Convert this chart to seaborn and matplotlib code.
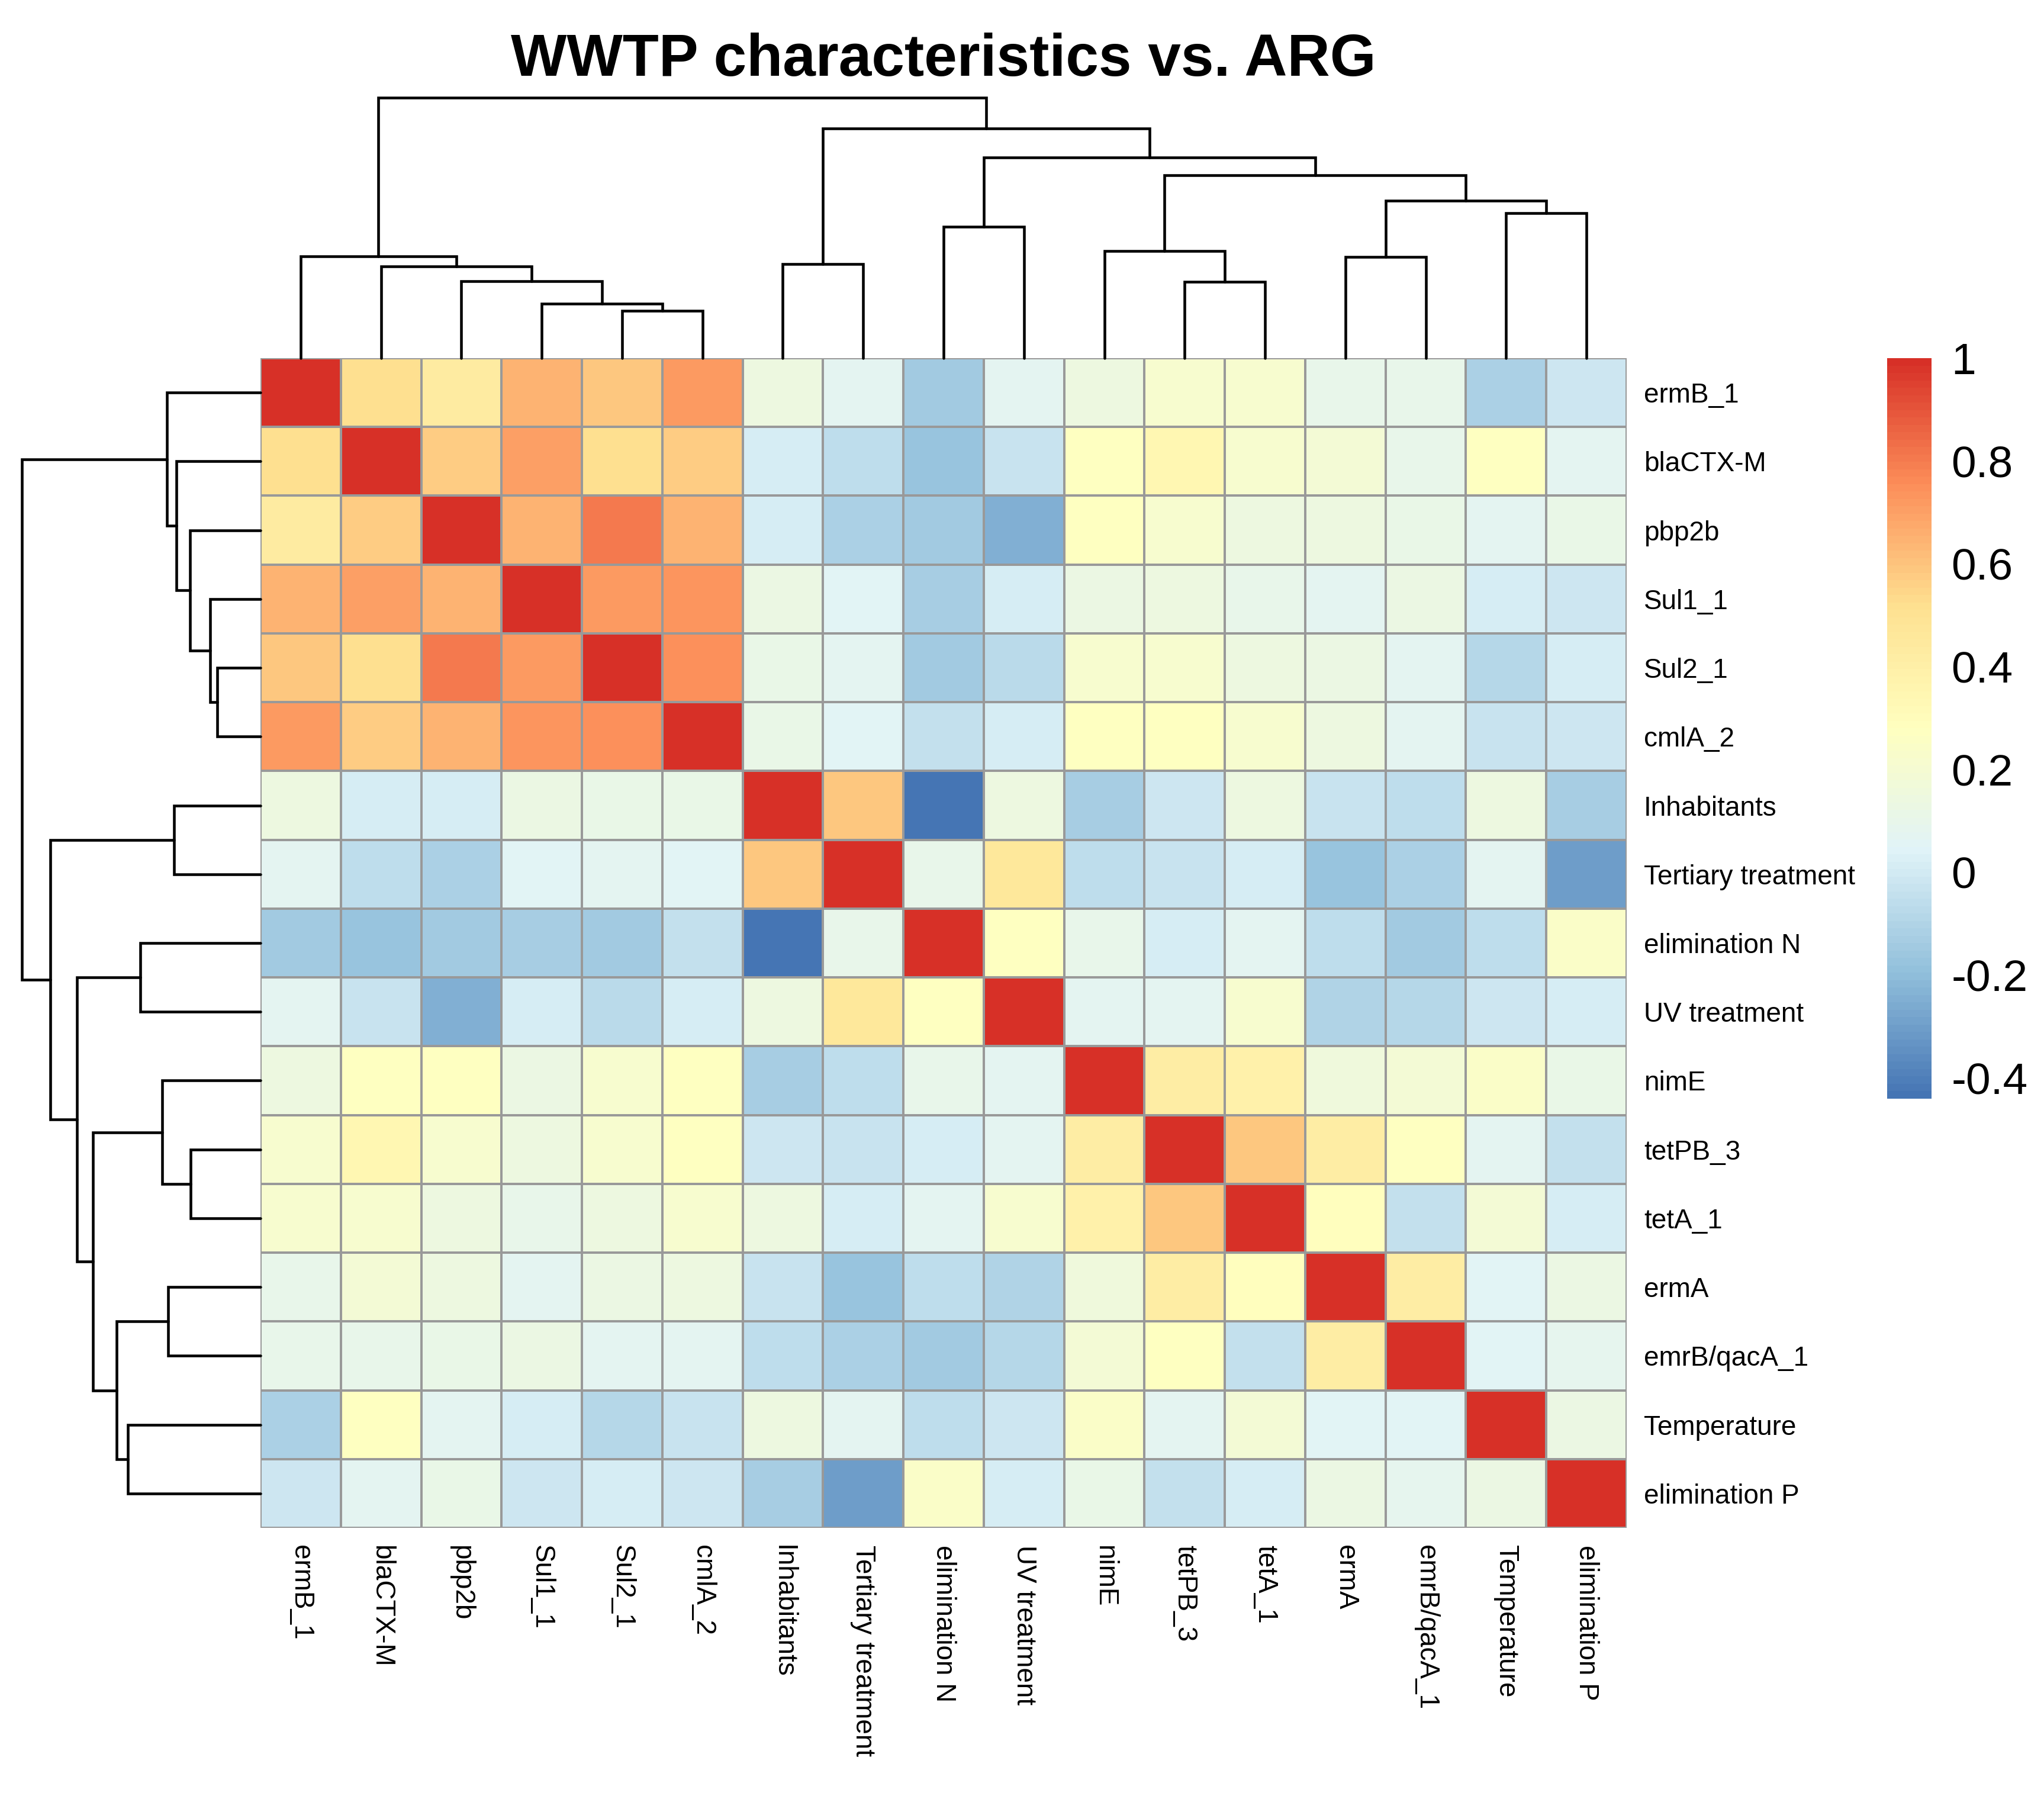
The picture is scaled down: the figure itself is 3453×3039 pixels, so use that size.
import numpy as np
import pandas as pd
import matplotlib
matplotlib.use("Agg")
import matplotlib.pyplot as plt
from matplotlib.colors import LinearSegmentedColormap
import seaborn as sns

# variables in the clustered order of the heatmap
labels = ["ermB_1", "blaCTX-M", "pbp2b", "Sul1_1", "Sul2_1", "cmlA_2",
          "Inhabitants", "Tertiary treatment", "elimination N", "UV treatment",
          "nimE", "tetPB_3", "tetA_1", "ermA", "emrB/qacA_1", "Temperature",
          "elimination P"]

# correlations right of the diagonal, one list per row
r_ermB_1 = [0.52, 0.43, 0.65, 0.59, 0.72, 0.15, 0.075, -0.15, 0.07, 0.15, 0.21, 0.21, 0.10, 0.10, -0.11, -0.015]
r_blaCTX = [0.57, 0.71, 0.52, 0.57, 0.02, -0.06, -0.18, -0.03, 0.27, 0.34, 0.21, 0.185, 0.10, 0.27, 0.075]
r_pbp2b = [0.64, 0.80, 0.64, 0.02, -0.11, -0.15, -0.25, 0.27, 0.21, 0.15, 0.15, 0.11, 0.075, 0.12]
r_sul1 = [0.72, 0.74, 0.13, 0.05, -0.13, 0.02, 0.13, 0.15, 0.10, 0.065, 0.13, 0.02, -0.015]
r_sul2 = [0.755, 0.11, 0.075, -0.14, -0.07, 0.21, 0.21, 0.15, 0.13, 0.07, -0.09, 0.02]
r_cmlA = [0.11, 0.05, -0.04, 0.02, 0.27, 0.27, 0.21, 0.15, 0.075, -0.03, -0.015]
r_inhab = [0.59, -0.44, 0.15, -0.13, -0.015, 0.15, -0.03, -0.06, 0.15, -0.13]
r_tert = [0.10, 0.46, -0.06, -0.03, 0.02, -0.17, -0.12, 0.075, -0.30]
r_elimN = [0.27, 0.10, 0.02, 0.065, -0.06, -0.15, -0.06, 0.24]
r_uv = [0.075, 0.065, 0.21, -0.10, -0.09, -0.015, 0.02]
r_nimE = [0.42, 0.39, 0.16, 0.185, 0.24, 0.11]
r_tetPB = [0.59, 0.42, 0.27, 0.075, -0.04]
r_tetA = [0.28, -0.04, 0.185, 0.02]
r_ermA = [0.42, 0.05, 0.13]
r_emrB = [0.05, 0.09]
r_temp = [0.13]

upper = [r_ermB_1, r_blaCTX, r_pbp2b, r_sul1, r_sul2, r_cmlA, r_inhab, r_tert,
         r_elimN, r_uv, r_nimE, r_tetPB, r_tetA, r_ermA, r_emrB, r_temp]

# hierarchical merges (child a, child b, height); ids >= 17 are earlier merges
merges = [(4, 5, 0.182), (3, 17, 0.210), (2, 18, 0.295), (1, 19, 0.352),
          (0, 20, 0.392), (6, 7, 0.362), (8, 9, 0.504), (11, 12, 0.293),
          (10, 24, 0.412), (13, 14, 0.388), (15, 16, 0.556), (26, 27, 0.604),
          (25, 28, 0.702), (23, 29, 0.770), (22, 30, 0.882), (21, 31, 1.0)]

n = len(labels)
mat = np.eye(n)
for i, row in enumerate(upper):
    for k, v in enumerate(row):
        mat[i, i + 1 + k] = v
        mat[i + 1 + k, i] = v
df = pd.DataFrame(mat, index=labels, columns=labels)

sns.set_style("white")
plt.rcParams["font.family"] = ["Liberation Sans", "DejaVu Sans"]
plt.rcParams["axes.unicode_minus"] = False
plt.rcParams["text.color"] = "black"
plt.rcParams["xtick.color"] = "black"
plt.rcParams["ytick.color"] = "black"

pal = ["#4575B4", "#91BFDB", "#E0F3F8", "#FFFFBF", "#FEE090", "#FC8D59", "#D73027"]
cmap = LinearSegmentedColormap.from_list("rdylbu_r", pal, N=100)

W, H = 3453, 3039
fig = plt.figure(figsize=(W / 300, H / 300), dpi=300)


def box(l, t, r, b):
    return [l / W, 1 - b / H, (r - l) / W, (b - t) / H]


ax = fig.add_axes(box(440, 605, 2748, 2581))
cax = fig.add_axes(box(3188, 605, 3263, 1856))
ax_top = fig.add_axes(box(440, 165, 2748, 605))
ax_left = fig.add_axes(box(37, 605, 440, 2581))

sns.heatmap(df, ax=ax, cmap=cmap, vmin=-0.44, vmax=1.0, linewidths=0.9,
            linecolor="#999999", cbar_ax=cax, xticklabels=labels, yticklabels=labels)
ax.yaxis.tick_right()
ax.set_yticklabels(labels, rotation=0, fontsize=11, color="black")
ax.set_xticklabels(labels, rotation=270, fontsize=11, color="black")
ax.tick_params(length=0, pad=7)
ax.set_xlabel("")
ax.set_ylabel("")
for s in ax.spines.values():
    s.set_visible(False)

cbar = ax.collections[0].colorbar
cbar.set_ticks([-0.4, -0.2, 0, 0.2, 0.4, 0.6, 0.8, 1])
cbar.set_ticklabels(["-0.4", "-0.2", "0", "0.2", "0.4", "0.6", "0.8", "1"],
                    fontsize=18, color="black")
cbar.outline.set_visible(False)
cax.tick_params(length=0, pad=8)

# dendrograms from the merge list
pos = {i: i + 0.5 for i in range(n)}
hgt = {i: 0.0 for i in range(n)}
segs = []
for k, (a, b, h) in enumerate(merges):
    segs.append((pos[a], pos[b], hgt[a], hgt[b], h))
    pos[n + k] = (pos[a] + pos[b]) / 2
    hgt[n + k] = h

for xa, xb, ha, hb, h in segs:
    ax_top.plot([xa, xa, xb, xb], [ha, h, h, hb], color="black", lw=1.1,
                solid_joinstyle="miter", clip_on=False)
    ax_left.plot([ha, h, h, hb], [xa, xa, xb, xb], color="black", lw=1.1,
                 solid_joinstyle="miter", clip_on=False)

ax_top.set_xlim(0, n)
ax_top.set_ylim(0, 1.0)
ax_top.axis("off")
ax_left.set_ylim(n, 0)
ax_left.set_xlim(1.0, 0)
ax_left.axis("off")

fig.text(1594 / W, 1 - 128 / H, "WWTP characteristics vs. ARG", ha="center",
         va="baseline", fontsize=24, fontweight="bold", color="black")

fig.savefig("out.png", dpi=300)
